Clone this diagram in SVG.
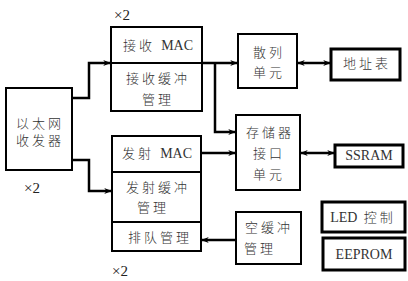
<svg xmlns="http://www.w3.org/2000/svg" width="408" height="281" viewBox="0 0 408 281">
<defs>
<style>
.b{fill:#fff;stroke:#000;stroke-width:2}
.bt{fill:#fff;stroke:#000;stroke-width:3}
.d{stroke:#000;stroke-width:2;fill:none}
.t{font-family:"Liberation Serif","Noto Sans CJK SC",serif;font-size:13px;fill:#333;text-anchor:middle;letter-spacing:3px;font-weight:300}
.m{font-size:14px;letter-spacing:0}
.x{font-family:"Liberation Serif","Noto Sans CJK SC",serif;font-size:15px;fill:#222}
.c{stroke:#000;stroke-width:2.5;fill:none}
</style>
<marker id="a" viewBox="0 0 10 8" refX="9" refY="4" markerWidth="8" markerHeight="6" markerUnits="userSpaceOnUse" orient="auto-start-reverse">
<path d="M0,0 L10,4 L0,8 L3,4 z" fill="#000"/>
</marker>
</defs>
<text class="x" x="114" y="20">×2</text>
<text class="x" x="24" y="193">×2</text>
<text class="x" x="112" y="276">×2</text>
<g id="transceiver">
<rect class="b" x="6" y="88" width="66" height="82"/>
<text class="t" x="40" y="128">以太网</text>
<text class="t" x="40" y="145">收发器</text>
</g>
<g id="rx">
<rect class="b" x="111" y="27" width="91" height="84"/>
<line class="d" x1="111" y1="63" x2="202" y2="63"/>
<text class="t" x="158" y="50">接收 <tspan class="m">MAC</tspan></text>
<text class="t" x="158" y="83">接收缓冲</text>
<text class="t" x="158" y="104">管理</text>
</g>
<g id="tx">
<rect class="b" x="112" y="136" width="89" height="115"/>
<line class="d" x1="112" y1="172" x2="201" y2="172"/>
<line class="d" x1="112" y1="222" x2="201" y2="222"/>
<text class="t" x="157" y="158">发射 <tspan class="m">MAC</tspan></text>
<text class="t" x="158" y="192">发射缓冲</text>
<text class="t" x="153" y="212">管理</text>
<text class="t" x="160" y="242">排队管理</text>
</g>
<g id="hash">
<rect class="b" x="238" y="34" width="59" height="54"/>
<text class="t" x="269" y="57">散列</text>
<text class="t" x="269" y="77">单元</text>
</g>
<g id="addr">
<rect class="bt" x="331" y="49" width="69" height="31"/>
<text class="t" x="367" y="68">地址表</text>
</g>
<g id="mem">
<rect class="b" x="236" y="115" width="64" height="75"/>
<text class="t" x="270" y="137">存储器</text>
<text class="t" x="269" y="158">接口</text>
<text class="t" x="269" y="179">单元</text>
</g>
<g id="ssram">
<rect class="bt" x="335" y="145" width="68" height="22"/>
<text class="t m" x="369" y="160">SSRAM</text>
</g>
<g id="free">
<rect class="b" x="236" y="212" width="65" height="52"/>
<text class="t" x="269" y="232">空缓冲</text>
<text class="t" x="260" y="253">管理</text>
</g>
<g id="led">
<rect class="bt" x="322" y="202" width="83" height="30"/>
<text class="t" x="363" y="222"><tspan class="m">LED</tspan> 控制</text>
</g>
<g id="eeprom">
<rect class="bt" x="323" y="238" width="82" height="32"/>
<text class="t m" x="364" y="259">EEPROM</text>
</g>
<g id="connectors">
<polyline class="c" points="72,98 89,98 89,63 110,63" marker-end="url(#a)"/>
<line class="c" x1="202" y1="63" x2="237" y2="63" marker-end="url(#a)"/>
<polyline class="c" points="215,63 215,132 235,132" marker-end="url(#a)"/>
<polyline class="c" points="72,160 89,160 89,191 111,191" marker-end="url(#a)"/>
<line class="c" x1="201" y1="153" x2="235" y2="153" marker-end="url(#a)"/>
<line class="c" x1="298" y1="63" x2="330" y2="63" marker-start="url(#a)" marker-end="url(#a)"/>
<line class="c" x1="301" y1="153" x2="334" y2="153" marker-start="url(#a)" marker-end="url(#a)"/>
<line class="c" x1="236" y1="240" x2="202" y2="240" marker-end="url(#a)"/>
</g>
</svg>
